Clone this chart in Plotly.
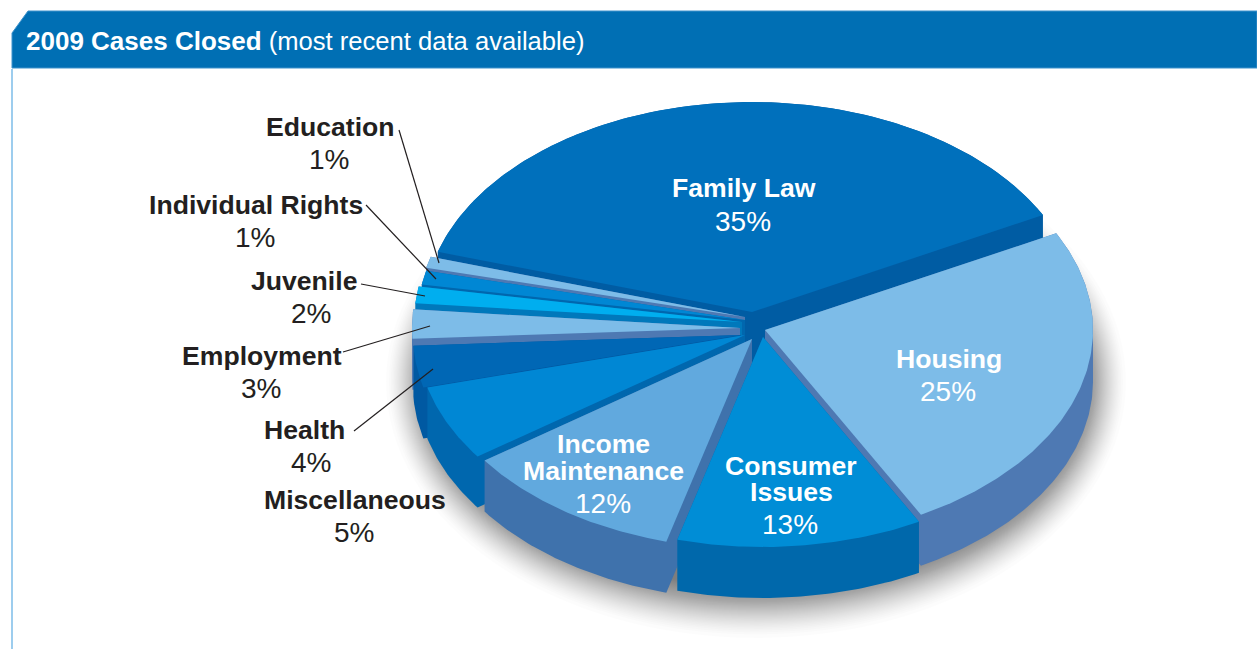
import numpy as np
import plotly.graph_objects as go

# ---- data, clockwise from the back slice ----
CATEGORIES = ["Family Law", "Education", "Individual Rights", "Juvenile", "Employment",
              "Health", "Miscellaneous", "Income Maintenance", "Consumer Issues", "Housing"]
PERCENT = [35, 1, 1, 2, 3, 4, 5, 12, 13, 25]

# ---- display text ----
TITLE_BOLD = "2009 Cases Closed"
TITLE_REST = " (most recent data available)"
LABEL_LINES = [["Family Law"], ["Education"], ["Individual Rights"], ["Juvenile"], ["Employment"],
               ["Health"], ["Miscellaneous"], ["Income", "Maintenance"], ["Consumer", "Issues"], ["Housing"]]

# ---- geometry and style ----
START_DEG = 27.5
FORESHORTEN_DEG = [11.1, -0.5, 0.3, -2.5, -2.7, -2.7, 3.1, -3.3, -2.8, -0.1]
APEX_X = [752, 745, 745, 742, 740, 741, 745, 752, 763, 765]
APEX_Y = [312, 317, 320, 322, 328, 335, 335, 339, 337, 330]
RX = 328
RY = [210, 210, 210, 210, 210, 210, 210, 210, 210, 210]
DEPTH = 51
TOP_COLORS = ["#0070bc", "#7dbce8", "#0087d4", "#00aeef", "#7dbce8",
              "#0067b5", "#0087d4", "#61a9de", "#008dd6", "#7dbce8"]
SIDE_COLORS = ["#005ca3", "#4e79b3", "#0067ae", "#0078bb", "#4e79b3",
               "#0059a2", "#0067ae", "#3f72ac", "#0068ab", "#4e79b3"]
DRAW_ORDER = [0, 1, 2, 3, 4, 5, 6, 7, 9, 8]
LABEL_COLOR = "#231f20"
FONT = "Liberation Sans, Arial, sans-serif"
# (x, y of each text line centre; the percentage is the last entry)
LABEL_POS = [
    [(744, 188), (743, 221)],
    [(330, 127), (329, 159)],
    [(256, 205), (255, 237)],
    [(304, 281), (311, 313)],
    [(262, 356), (261, 388)],
    [(304, 430), (311, 462)],
    [(355, 500), (354, 532)],
    [(603, 444), (603, 471), (603, 503)],
    [(791, 466), (791, 492), (790, 524)],
    [(949, 359), (948, 391)],
]
INSIDE = {0, 7, 8, 9}
LEADER_X = [[399, 439], [366, 436], [361, 425], [343, 430], [354, 433]]
LEADER_Y = [[130, 263], [205, 279], [284, 296], [352, 326], [431, 369]]


def hull(points):
    pts = sorted(set(map(tuple, np.round(points, 3))))
    def half(seq):
        out = []
        for p in seq:
            while len(out) >= 2 and (out[-1][0]-out[-2][0])*(p[1]-out[-2][1]) - (out[-1][1]-out[-2][1])*(p[0]-out[-2][0]) <= 0:
                out.pop()
            out.append(p)
        return out
    lo, up = half(pts), half(pts[::-1])
    return np.array(lo[:-1] + up[:-1] + [lo[0]])


fig = go.Figure()

# soft shadow: many faint stacked neutral ellipses, sparser toward the outside
N_SHADOW = 50
shapes = []
for k in range(N_SHADOW):
    f = (k / (N_SHADOW - 1)) ** 0.7
    rx, ry = 370 - 44 * f, 256 - 52 * f
    shapes.append(dict(type="circle", xref="x", yref="y", x0=756 - rx, x1=756 + rx,
                       y0=382 - ry, y1=382 + ry, line_width=0, layer="below",
                       fillcolor="rgba(0,0,0,0.0125)"))

# slice angle ranges derived from the values
total = sum(PERCENT)
spans = [v / total * 360 + a for v, a in zip(PERCENT, FORESHORTEN_DEG)]
edges = START_DEG + np.concatenate([[0], np.cumsum(spans)])

for i in DRAW_ORDER:
    phi = np.radians(np.linspace(edges[i], edges[i + 1], max(8, int(spans[i] * 1.5))))
    x = APEX_X[i] + RX * np.cos(phi)
    y = APEX_Y[i] - RY[i] * np.sin(phi)
    top = np.column_stack([np.r_[APEX_X[i], x, APEX_X[i]], np.r_[APEX_Y[i], y, APEX_Y[i]]])
    side = hull(np.vstack([top, top + [0, DEPTH]]))
    fig.add_trace(go.Scatter(x=side[:, 0], y=side[:, 1], mode="lines", fill="toself",
                             fillcolor=SIDE_COLORS[i], line=dict(width=0), hoverinfo="skip", showlegend=False))
    fig.add_trace(go.Scatter(x=top[:, 0], y=top[:, 1], mode="lines", fill="toself",
                             fillcolor=TOP_COLORS[i], line=dict(width=0), name=CATEGORIES[i],
                             text=f"{PERCENT[i]}%", hoverinfo="name+text", showlegend=False))

# header band and frame line
fig.add_trace(go.Scatter(x=[12, 28, 1257, 1257, 12, 12], y=[33, 11, 11, 68, 68, 33], mode="lines", fill="toself",
                         fillcolor="#006fb4", line=dict(width=1, color="#3f93cc"), hoverinfo="skip", showlegend=False))
fig.add_trace(go.Scatter(x=[12, 12], y=[69, 649], mode="lines", line=dict(width=1.5, color="#7dbce8"),
                         hoverinfo="skip", showlegend=False))

# leaders
for lx, ly in zip(LEADER_X, LEADER_Y):
    fig.add_trace(go.Scatter(x=lx, y=ly, mode="lines", line=dict(width=1.2, color=LABEL_COLOR),
                             hoverinfo="skip", showlegend=False))

annotations = [dict(x=24, y=41, xref="x", yref="y", xanchor="left", yanchor="middle", showarrow=False,
                    text=f"<b>{TITLE_BOLD}</b><span style='font-size:25.6px'>{TITLE_REST}</span>",
                    font=dict(family=FONT, size=26, color="white"))]
for i, lines in enumerate(LABEL_LINES):
    color = "white" if i in INSIDE else LABEL_COLOR
    for line, (px, py) in zip(lines, LABEL_POS[i]):
        annotations.append(dict(x=px, y=py, xref="x", yref="y", showarrow=False, xanchor="center", yanchor="middle",
                                text=f"<b>{line}</b>", font=dict(family=FONT, size=26.6, color=color)))
    px, py = LABEL_POS[i][-1]
    annotations.append(dict(x=px, y=py, xref="x", yref="y", showarrow=False, xanchor="center", yanchor="middle",
                            text=f"{PERCENT[i]}%", font=dict(family=FONT, size=28, color=color)))

fig.update_layout(
    width=1257, height=649, margin=dict(l=0, r=0, t=0, b=0), autosize=False,
    paper_bgcolor="white", plot_bgcolor="white", showlegend=False,
    xaxis=dict(range=[0, 1257], visible=False, fixedrange=True),
    yaxis=dict(range=[649, 0], visible=False, fixedrange=True),
    shapes=shapes, annotations=annotations,
)
fig.write_html("out.html", config={"displayModeBar": False},
               post_script="document.body.style.margin='0';document.body.style.overflow='hidden';")
